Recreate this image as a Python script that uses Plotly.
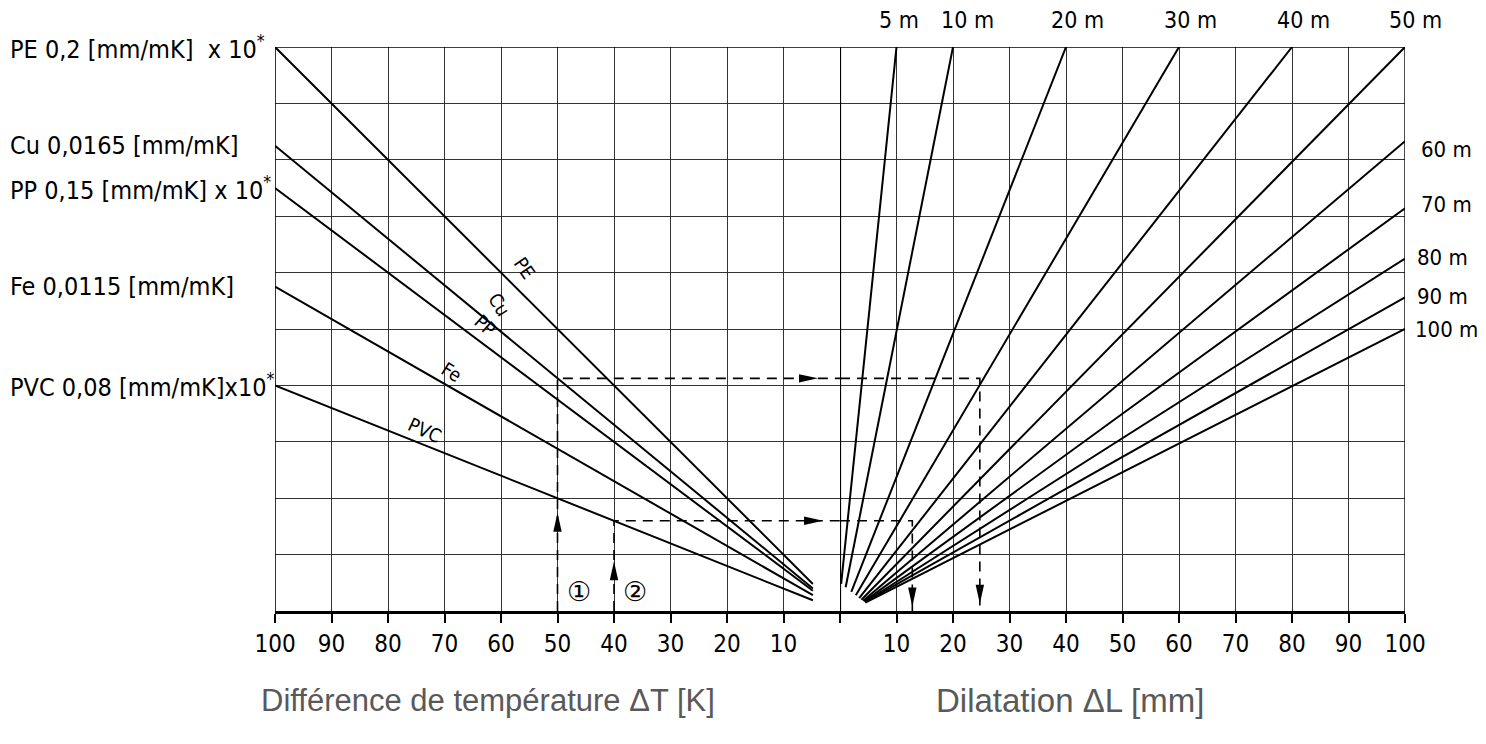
import plotly.graph_objects as go

# ---------------- data ----------------
materials = ["PE", "Cu", "PP", "Fe", "PVC"]
mat_legend = ["PE 0,2 [mm/mK]  x 10<sup>*</sup>", "Cu 0,0165 [mm/mK]",
              "PP 0,15 [mm/mK] x 10<sup>*</sup>", "Fe 0,0115 [mm/mK]",
              "PVC 0,08 [mm/mK]x10<sup>*</sup>"]
mat_dt_start = [100, 100, 100, 100, 100]
mat_y_start = [100, 82.5, 75, 57.5, 40]
mat_dt_end = [4.8, 4.8, 4.8, 4.8, 4.8]
mat_y_end = [4.8, 4.0, 3.6, 2.8, 1.9]
mat_tag_dt = [55.8, 60.2, 62.8, 68.7, 73.5]
mat_tag_y = [60.8, 54.3, 50.7, 42.4, 32.1]
mat_tag_angle = [55, 58, 42, 32, 25]

lengths = ["5 m", "10 m", "20 m", "30 m", "40 m", "50 m", "60 m", "70 m", "80 m", "90 m", "100 m"]
len_start_dl = [0.2, 1.0, 2.0, 2.8, 3.4, 3.8, 4.1, 4.3, 4.4, 4.5, 4.5]
len_start_y = [4.8, 4.2, 3.4, 2.8, 2.3, 2.0, 1.8, 1.7, 1.6, 1.6, 1.5]
len_end_dl = [10, 20, 40, 60, 80, 100, 100, 100, 100, 100, 100]
len_end_y = [100, 100, 100, 100, 100, 100, 83.3, 71.4, 62.5, 55.6, 50]

ex_names = ["①", "②"]
ex_dt = [50, 40]
ex_y = [41.25, 16]
ex_dl = [24.75, 12.8]

dt_ticks = [100, 90, 80, 70, 60, 50, 40, 30, 20, 10, 0]
dl_ticks = [0, 10, 20, 30, 40, 50, 60, 70, 80, 90, 100]

# ---------------- style ----------------
W, H = 1486, 744
ML, MR, MT, MB = 275, 81, 47, 133
KX = (W - ML - MR) / 200.0
KY = (H - MT - MB) / 100.0
ISO = "DejaVu Sans Condensed, Liberation Sans Narrow, Arial Narrow, sans-serif"
LINE = dict(color="black", width=2)
DASH = dict(color="black", width=1.6, dash="10px,7px")
GRID = "#333333"

fig = go.Figure()

for i, m in enumerate(materials):
    fig.add_trace(go.Scatter(x=[mat_dt_start[i], mat_dt_end[i]], y=[mat_y_start[i], mat_y_end[i]],
                             mode="lines", line=LINE, xaxis="x", yaxis="y", hoverinfo="skip"))
for i, L in enumerate(lengths):
    fig.add_trace(go.Scatter(x=[len_start_dl[i], len_end_dl[i]], y=[len_start_y[i], len_end_y[i]],
                             mode="lines", line=LINE, xaxis="x2", yaxis="y", hoverinfo="skip"))

# dashed example paths
for i in range(len(ex_dt)):
    fig.add_trace(go.Scatter(x=[ex_dt[i], ex_dt[i], 0], y=[0, ex_y[i], ex_y[i]], mode="lines",
                             line=DASH, xaxis="x", yaxis="y", hoverinfo="skip"))
    fig.add_trace(go.Scatter(x=[0, ex_dl[i], ex_dl[i]], y=[ex_y[i], ex_y[i], 0], mode="lines",
                             line=DASH, xaxis="x2", yaxis="y", hoverinfo="skip"))

shapes = []

def arrow(xref, tx, ty, direction, sx):
    Lp, Wp = 19, 4.2
    if direction == "up":
        pts = [(tx, ty), (tx + Wp / KX, ty - Lp / KY), (tx - Wp / KX, ty - Lp / KY)]
    elif direction == "down":
        pts = [(tx, ty), (tx + Wp / KX, ty + Lp / KY), (tx - Wp / KX, ty + Lp / KY)]
    else:  # right in pixel space
        bx = tx - sx * Lp / KX
        pts = [(tx, ty), (bx, ty + Wp / KY), (bx, ty - Wp / KY)]
    path = "M " + " L ".join(f"{p[0]},{p[1]}" for p in pts) + " Z"
    shapes.append(dict(type="path", path=path, xref=xref, yref="y",
                       fillcolor="black", line=dict(width=0)))

up_tip = [17.4, 8.8]
right_tip = [3.9, 3.0]
down_tip = [1.3, 0.8]
for i in range(len(ex_dt)):
    arrow("x", ex_dt[i], up_tip[i], "up", -1)
    arrow("x", right_tip[i], ex_y[i], "right", -1)
    arrow("x2", ex_dl[i], down_tip[i], "down", 1)

# frame lines
shapes.append(dict(type="line", xref="x2", yref="y", x0=0, x1=0, y0=0, y1=100,
                   line=dict(color="black", width=2.2)))
shapes.append(dict(type="line", xref="x", yref="y", x0=100, x1=100, y0=0, y1=100,
                   line=dict(color="black", width=1.6)))
shapes.append(dict(type="line", xref="x2", yref="y", x0=100, x1=100, y0=0, y1=100,
                   line=dict(color="black", width=1.4)))
shapes.append(dict(type="line", xref="paper", yref="y", x0=0, x1=1, y0=100, y1=100,
                   line=dict(color="black", width=1.4)))

ann = []
for i, m in enumerate(materials):
    ann.append(dict(x=-(ML - 8) / (W - ML - MR), xref="paper", y=mat_y_start[i], yref="y",
                    text=mat_legend[i], showarrow=False, xanchor="left", yanchor="middle",
                    font=dict(family=ISO, size=25, color="black")))
    ann.append(dict(x=mat_tag_dt[i], xref="x", y=mat_tag_y[i], yref="y", text=m,
                    showarrow=False, textangle=mat_tag_angle[i],
                    font=dict(family=ISO, size=19, color="black")))

top_dx = [2, 14, 11, 11, 11, 10]
right_dy = [-8, 4, 1, 1, 0]
right_dx = [14, 14, 10, 10, 8]
t = 0
k = 0
for i, L in enumerate(lengths):
    if len_end_y[i] >= 100:
        ann.append(dict(x=len_end_dl[i], xref="x2", y=100, yref="y", text=L, showarrow=False,
                        xanchor="center", yanchor="middle", xshift=top_dx[t], yshift=27,
                        font=dict(family=ISO, size=23, color="black")))
        t += 1
    else:
        ann.append(dict(x=100, xref="x2", y=len_end_y[i], yref="y", text=L, showarrow=False,
                        xanchor="left", yanchor="middle", xshift=right_dx[k], yshift=right_dy[k],
                        font=dict(family=ISO, size=22, color="black")))
        k += 1

for i, nm in enumerate(ex_names):
    ann.append(dict(x=ex_dt[i] - 3.8, xref="x", y=3.4, yref="y", text=nm, showarrow=False,
                    font=dict(family="DejaVu Sans, Noto Sans CJK JP", size=27, color="black")))

title_y = -(700 - (H - MB)) / (H - MT - MB)
ann.append(dict(x=(488 - ML) / (W - ML - MR), xref="paper", y=title_y,
                yref="paper", text="Différence de température ΔT [K]", showarrow=False,
                xanchor="center", yanchor="middle",
                font=dict(family="Liberation Sans, Arial, sans-serif", size=31, color="#595959")))
ann.append(dict(x=(1070 - ML) / (W - ML - MR), xref="paper", y=title_y,
                yref="paper", text="Dilatation ΔL [mm]", showarrow=False,
                xanchor="center", yanchor="middle",
                font=dict(family="Liberation Sans, Arial, sans-serif", size=33, color="#595959")))

axis_common = dict(showgrid=True, gridcolor=GRID, gridwidth=1.2, zeroline=False,
                   showline=True, linecolor="black", linewidth=2.6, ticks="outside",
                   ticklen=9, tickwidth=1.6, tickcolor="black",
                   tickfont=dict(family=ISO, size=24, color="black"), fixedrange=True)

fig.update_layout(
    width=W, height=H, autosize=False,
    margin=dict(l=ML, r=MR, t=MT, b=MB),
    paper_bgcolor="white", plot_bgcolor="white", showlegend=False,
    xaxis=dict(domain=[0, 0.5], range=[100, 0], tickmode="array", tickvals=dt_ticks,
               ticktext=[str(v) if v else " " for v in dt_ticks], anchor="y", **axis_common),
    xaxis2=dict(domain=[0.5, 1], range=[0, 100], tickmode="array", tickvals=dl_ticks,
                ticktext=[str(v) if v else " " for v in dl_ticks], anchor="y", **axis_common),
    yaxis=dict(range=[0, 100], dtick=10, showgrid=True, gridcolor=GRID, gridwidth=1.2,
               zeroline=False, showticklabels=False, ticks="", showline=False, fixedrange=True),
    shapes=shapes, annotations=ann,
)

fig.write_html("out.html", post_script="document.body.style.margin='0';",
               config={"displayModeBar": False})
